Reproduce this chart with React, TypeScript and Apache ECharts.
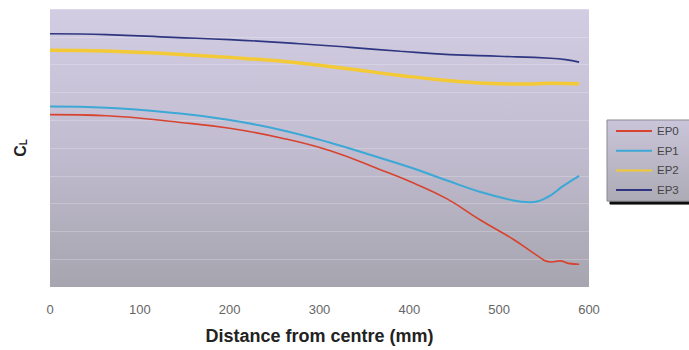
import React, { useEffect, useRef } from "react";
import * as echarts from "echarts";

const xTicks = [0, 100, 200, 300, 400, 500, 600];

const ep0X = [0, 63, 145, 200, 256, 312, 367, 404, 442, 479, 516, 542, 557, 568, 577, 589];
const ep0Y = [0.62, 0.616, 0.592, 0.571, 0.537, 0.49, 0.423, 0.375, 0.317, 0.241, 0.171, 0.114, 0.09, 0.094, 0.085, 0.082];

const ep1X = [0, 63, 145, 200, 256, 312, 367, 404, 442, 479, 516, 534, 553, 571, 589];
const ep1Y = [0.649, 0.645, 0.624, 0.601, 0.566, 0.519, 0.465, 0.427, 0.383, 0.342, 0.311, 0.305, 0.322, 0.363, 0.4];

const ep2X = [0, 63, 137, 200, 278, 334, 390, 445, 500, 530, 557, 589];
const ep2Y = [0.852, 0.849, 0.838, 0.826, 0.806, 0.784, 0.761, 0.742, 0.731, 0.73, 0.733, 0.731];

const ep3X = [0, 63, 137, 200, 278, 334, 390, 445, 500, 557, 574, 589];
const ep3Y = [0.911, 0.908, 0.898, 0.89, 0.875, 0.862, 0.848, 0.836, 0.83, 0.823, 0.818, 0.809];

const seriesNames = ["EP0", "EP1", "EP2", "EP3"];
const seriesColors = ["#d8432f", "#3ca8d6", "#f3c935", "#2f3681"];
const seriesWidths = [1.6, 2, 3.5, 1.6];

const zip = (xs: number[], ys: number[]) => xs.map((x, i) => [x, ys[i]]);

export default function App() {
  const ref = useRef<HTMLDivElement>(null);
  useEffect(() => {
    if (!ref.current) return;
    const chart = echarts.init(ref.current, undefined, { renderer: "svg" });
    const data = [zip(ep0X, ep0Y), zip(ep1X, ep1Y), zip(ep2X, ep2Y), zip(ep3X, ep3Y)];
    chart.setOption({
      animation: false,
      backgroundColor: "#ffffff",
      grid: {
        left: 50,
        right: 100,
        top: 9,
        bottom: 54,
        show: true,
        borderWidth: 0,
        backgroundColor: new echarts.graphic.LinearGradient(0, 0, 0, 1, [
          { offset: 0, color: "#d3cde3" },
          { offset: 0.45, color: "#c4bed3" },
          { offset: 1, color: "#a6a5af" },
        ]),
      },
      legend: {
        orient: "vertical",
        left: 607,
        top: 120,
        padding: [5, 24, 5, 8],
        itemWidth: 36,
        itemHeight: 14,
        itemGap: 7.7,
        itemStyle: { opacity: 0, borderWidth: 0 },
        data: seriesNames,
        textStyle: { fontFamily: "Liberation Sans", fontSize: 11.5, color: "#444" },
        backgroundColor: new echarts.graphic.LinearGradient(0, 0, 0, 1, [
          { offset: 0, color: "#cac5da" },
          { offset: 1, color: "#adabb5" },
        ]),
        borderColor: "#8a8a92",
        borderWidth: 1,
        shadowColor: "#111",
        shadowOffsetX: 3,
        shadowOffsetY: 3,
        shadowBlur: 0,
      },
      xAxis: {
        type: "value",
        min: 0,
        max: 600,
        interval: 100,
        data: xTicks,
        axisLine: { show: false },
        axisTick: { show: false },
        splitLine: { show: false },
        axisLabel: { margin: 16, fontFamily: "Liberation Sans", fontSize: 13, color: "#666" },
        name: "Distance from centre (mm)",
        nameLocation: "middle",
        nameGap: 40,
        nameTextStyle: { fontFamily: "Liberation Sans", fontSize: 18, fontWeight: "bold", color: "#222" },
      },
      yAxis: {
        type: "value",
        min: 0,
        max: 1,
        interval: 0.1,
        axisLine: { show: false },
        axisTick: { show: false },
        axisLabel: { show: false },
        splitLine: { show: true, lineStyle: { color: "rgba(255,255,255,0.22)", width: 1 } },
        name: "{c|C}{l|L}",
        nameLocation: "middle",
        nameRotate: 90,
        nameGap: 22,
        nameTextStyle: {
          rich: {
            c: { fontFamily: "Liberation Sans", fontSize: 16, fontWeight: "bold", color: "#222" },
            l: { fontFamily: "Liberation Sans", fontSize: 10, fontWeight: "bold", color: "#222", padding: [6, 0, 0, 0] },
          },
        },
      },
      series: seriesNames.map((name, i) => ({
        name,
        type: "line",
        data: data[i],
        symbol: "none",
        smooth: 0.45,
        color: seriesColors[i],
        lineStyle: { color: seriesColors[i], width: seriesWidths[i] },
      })),
    });
    return () => chart.dispose();
  }, []);
  return (
    <div
      ref={ref}
      style={{ position: "fixed", left: 0, top: 0, width: 689, height: 350 }}
    />
  );
}
